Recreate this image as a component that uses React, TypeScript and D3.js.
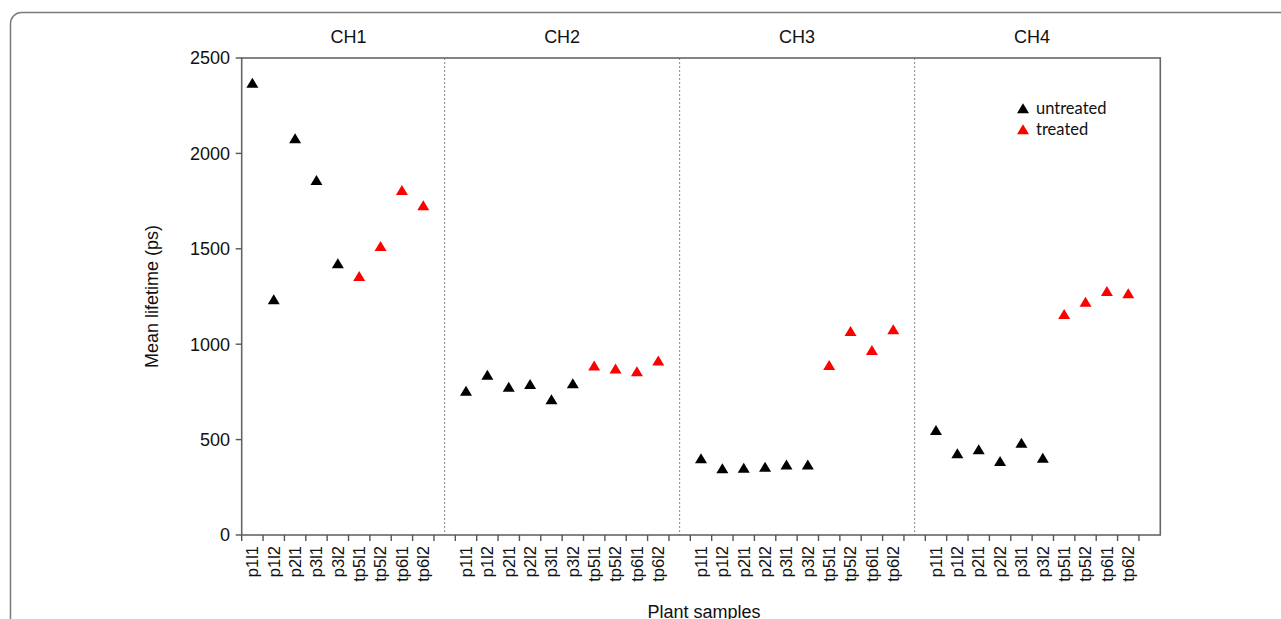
import { useEffect } from "react";
import * as d3 from "d3";

// sample labels per channel (CH1 has no p2l2)
const ch1Labels = ["p1l1", "p1l2", "p2l1", "p3l1", "p3l2", "tp5l1", "tp5l2", "tp6l1", "tp6l2"];
const fullLabels = ["p1l1", "p1l2", "p2l1", "p2l2", "p3l1", "p3l2", "tp5l1", "tp5l2", "tp6l1", "tp6l2"];

// mean lifetime (ps)
const ch1Values = [2370, 1235, 2080, 1860, 1424, 1357, 1515, 1808, 1728];
const ch2Values = [756, 840, 777, 791, 711, 795, 889, 872, 858, 914];
const ch3Values = [402, 350, 353, 358, 370, 370, 891, 1069, 970, 1078];
const ch4Values = [550, 428, 449, 388, 484, 405, 1158, 1223, 1279, 1267];

const channels = ["CH1", "CH2", "CH3", "CH4"];
const yTicks = [0, 500, 1000, 1500, 2000, 2500];

const W = 1281;
const H = 619;
const left = 241.7;
const right = 1160.3;
const top = 58;
const bottom = 535;

const panels = [
  { name: channels[0], labels: ch1Labels, values: ch1Values },
  { name: channels[1], labels: fullLabels, values: ch2Values },
  { name: channels[2], labels: fullLabels, values: ch3Values },
  { name: channels[3], labels: fullLabels, values: ch4Values },
];

// one slot per sample, one empty slot after each panel
const slots: { id: string; label: string; gap: boolean }[] = [];
const panelStart: number[] = [];
panels.forEach((p, i) => {
  panelStart.push(slots.length);
  p.labels.forEach((l) => slots.push({ id: p.name + "|" + l, label: l, gap: false }));
  slots.push({ id: "gap" + i, label: "", gap: true });
});

const points = panels.flatMap((p) =>
  p.labels.map((l, i) => ({ id: p.name + "|" + l, value: p.values[i], treated: l.startsWith("tp") }))
);

const tri = (cx: number, cy: number, w = 12, h = 10) =>
  `M${cx},${cy - h / 2}L${cx + w / 2},${cy + h / 2}L${cx - w / 2},${cy + h / 2}Z`;

export default function App() {
  useEffect(() => {
    document.body.style.margin = "0";
    document.body.style.overflow = "hidden";
  }, []);

  const x = d3
    .scaleBand<string>()
    .domain(slots.map((s) => s.id))
    .range([left, right])
    .paddingInner(0)
    .paddingOuter(0);
  const y = d3.scaleLinear().domain([0, 2500]).range([bottom, top]);
  const bw = x.bandwidth();
  const boundary = (i: number) => left + i * bw;

  const axisFont = "'Liberation Sans', Arial, sans-serif";

  return (
    <svg width={W} height={H} style={{ position: "absolute", left: 0, top: 0, background: "#fff" }}>
      <rect x={10.5} y={12.5} width={1400} height={800} rx={11} fill="none" stroke="#7a7a7a" strokeWidth={1.5} />

      {/* panel dividers */}
      {slots
        .filter((s, i) => s.gap && i < slots.length - 1)
        .map((s) => (
          <line
            key={s.id}
            x1={x(s.id)! + bw / 2}
            x2={x(s.id)! + bw / 2}
            y1={top}
            y2={bottom}
            stroke="#8a8a8a"
            strokeWidth={1}
            strokeDasharray="2,2"
          />
        ))}

      {/* frame */}
      <rect x={left} y={top} width={right - left} height={bottom - top} fill="none" stroke="#666" strokeWidth={1.6} />

      {/* y axis */}
      {yTicks.map((t) => (
        <g key={t}>
          <line x1={left - 6} x2={left} y1={y(t)} y2={y(t)} stroke="#555" strokeWidth={1.4} />
          <text x={230} y={y(t)} dy="0.35em" textAnchor="end" fontSize={18} fontFamily={axisFont} fill="#111">
            {t}
          </text>
        </g>
      ))}

      {/* x ticks & labels */}
      {slots.map((s) => (
        <g key={s.id}>
          <line x1={x(s.id)!} x2={x(s.id)!} y1={bottom} y2={bottom + 6} stroke="#555" strokeWidth={1.4} />
          {!s.gap && (
            <text
              transform={`translate(${x(s.id)! + bw / 2},${bottom + 11}) rotate(-90)`}
              dy="0.35em"
              textAnchor="end"
              fontSize={16.5}
              fontFamily={axisFont}
              fill="#111"
            >
              {s.label}
            </text>
          )}
        </g>
      ))}

      {/* channel titles */}
      {panels.map((p, i) => (
        <text
          key={p.name}
          x={boundary(panelStart[i] + 5)}
          y={43}
          textAnchor="middle"
          fontSize={18}
          fontFamily={axisFont}
          fill="#111"
        >
          {p.name}
        </text>
      ))}

      {/* points */}
      {points.map((d) => (
        <path key={d.id} d={tri(x(d.id)! + bw / 2, y(d.value))} fill={d.treated ? "#ff0000" : "#000"} />
      ))}

      {/* axis titles */}
      <text
        transform={`translate(158,${(top + bottom) / 2}) rotate(-90)`}
        textAnchor="middle"
        fontSize={18}
        fontFamily={axisFont}
        fill="#111"
      >
        Mean lifetime (ps)
      </text>
      <text x={(left + right) / 2 + 3} y={618} textAnchor="middle" fontSize={18} fontFamily={axisFont} fill="#111">
        Plant samples
      </text>

      {/* legend */}
      <path d={tri(1023, 108.3)} fill="#000" />
      <text x={1036} y={113.5} fontSize={16.5} fontFamily="Lato, 'Open Sans', sans-serif" fill="#111">
        untreated
      </text>
      <path d={tri(1023, 129.3)} fill="#ff0000" />
      <text x={1036} y={135} fontSize={16.5} fontFamily="Lato, 'Open Sans', sans-serif" fill="#111">
        treated
      </text>
    </svg>
  );
}
